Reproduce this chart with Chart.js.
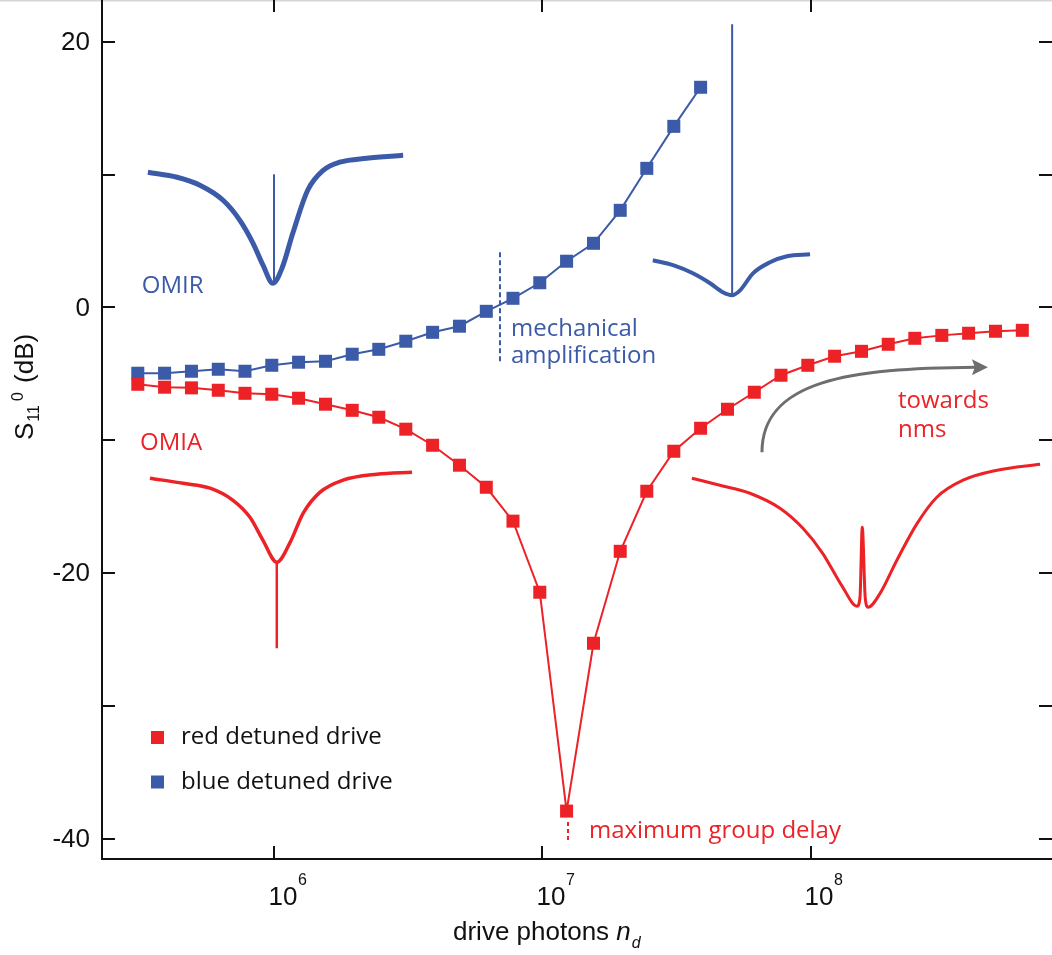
<!DOCTYPE html>
<html><head><meta charset="utf-8">
<script src="https://cdn.jsdelivr.net/npm/chart.js@4/dist/chart.umd.min.js"></script>
<style>html,body{margin:0;padding:0;background:#fff;overflow:hidden}canvas{display:block}</style>
</head><body>
<canvas id="c" width="1052" height="955"></canvas>
<script>
// ---- data ----
const drivePhotons = [3.09e5,3.89e5,4.90e5,6.17e5,7.76e5,9.77e5,1.23e6,1.55e6,1.95e6,2.45e6,3.09e6,3.89e6,4.90e6,6.17e6,7.76e6,9.77e6,1.23e7,1.55e7,1.95e7,2.45e7,3.09e7,3.89e7,4.90e7,6.17e7,7.76e7,9.77e7,1.23e8,1.55e8,1.95e8,2.45e8,3.09e8,3.89e8,4.90e8,6.17e8];
const redS11 = [-5.78,-6.00,-6.05,-6.23,-6.46,-6.53,-6.83,-7.28,-7.74,-8.26,-9.16,-10.37,-11.87,-13.53,-16.08,-21.43,-37.9,-25.27,-18.35,-13.83,-10.82,-9.09,-7.66,-6.38,-5.10,-4.35,-3.67,-3.30,-2.77,-2.32,-2.10,-1.94,-1.79,-1.72];
const blueS11 = [-4.95,-4.95,-4.80,-4.65,-4.80,-4.35,-4.12,-4.05,-3.52,-3.15,-2.54,-1.87,-1.41,-0.29,0.69,1.86,3.48,4.83,7.31,10.47,13.63,16.57];

// inset spectra, placed on the main axes
const blueInset1X = [3.37e5,4.33e5,5.27e5,6.43e5,7.43e5,8.32e5,9.06e5,9.87e5,1.07e6,1.17e6,1.33e6,1.52e6,1.75e6,2.21e6,3.02e6];
const blueInset1Y = [10.17,9.80,9.20,8.07,6.56,4.83,3.18,1.82,3.03,5.58,8.82,10.32,10.93,11.23,11.45];
const blueSpike1X = [9.96e5,9.96e5];
const blueSpike1Y = [1.9,10.02];
const blueInset2X = [2.58e7,3.07e7,3.64e7,4.22e7,4.71e7,5.09e7,5.46e7,6.10e7,7.06e7,8.17e7,9.96e7];
const blueInset2Y = [3.55,3.18,2.57,1.82,1.14,0.92,1.29,2.57,3.40,3.85,4.00];
const blueSpike2X = [5.10e7,5.10e7];
const blueSpike2Y = [0.95,21.31];
const redInset1X = [3.43e5,4.56e5,5.75e5,7.00e5,8.10e5,9.06e5,1.02e6,1.14e6,1.28e6,1.48e6,1.80e6,2.41e6,3.26e6];
const redInset1Y = [-12.85,-13.23,-13.60,-14.51,-15.79,-17.52,-19.17,-17.74,-15.48,-13.90,-13.00,-12.55,-12.40];
const redSpike1X = [1.02e6,1.02e6];
const redSpike1Y = [-19.17,-25.65];
const redInset2X = [3.61e7,4.59e7,5.94e7,7.69e7,9.37e7,1.11e8,1.32e8,1.49e8,1.53e8,1.56e8,1.60e8,1.64e8,1.82e8,2.10e8,2.50e8,2.96e8,3.71e8,4.97e8,7.19e8];
const redInset2Y = [-12.85,-13.38,-13.98,-15.11,-16.62,-18.50,-21.06,-22.48,-21.81,-16.54,-21.81,-22.56,-21.50,-19.02,-16.25,-14.28,-13.00,-12.25,-11.80];
const ampMarkX = [6.94e6,6.94e6];
const ampMarkY = [4.15,-4.12];
const delayMarkX = [1.245e7,1.245e7];
const delayMarkY = [-38.72,-40.30];

// axes
const yTickValues = [20,10,0,-10,-20,-30,-40];
const yTickLabels = ['20','','0','','-20','','-40'];
const xTickValues = [1e6,1e7,1e8];
const xTickExponents = ['6','7','8'];

const RED = '#ec2227', BLUE = '#3b5aa8', GRAY = '#6d6e71';

const zip = (xs, ys) => xs.map((x,i)=>({x:x, y:ys[i]}));

const annoTexts = [
  {text:'OMIR', x:3.20e5, y:1.07, color:BLUE},
  {text:'OMIA', x:3.15e5, y:-10.7, color:RED},
  {text:'mechanical', x:7.63e6, y:-2.17, color:BLUE},
  {text:'amplification', x:7.63e6, y:-4.19, color:BLUE},
  {text:'maximum group delay', x:1.49e7, y:-39.95, color:RED},
  {text:'towards', x:2.12e8, y:-7.59, color:RED},
  {text:'nms', x:2.12e8, y:-9.77, color:RED}
];
// arrow: start, two control points, end (data coordinates)
const arrowPts = [[6.59e7,-10.90],[6.59e7,-5.48],[1.40e8,-4.57],[4.59e8,-4.50]];

function lineDS(xs, ys, color, w, extra) {
  return Object.assign({data: zip(xs, ys), showLine:true, borderColor:color, borderWidth:w, pointRadius:0, fill:false, cubicInterpolationMode:'monotone'}, extra||{});
}

const axesPlugin = {
  id:'axesPlugin',
  afterDraw(chart) {
    const ctx = chart.ctx, xs = chart.scales.x, ys = chart.scales.y, a = chart.chartArea;
    ctx.save();
    // faint frame top
    ctx.strokeStyle = '#d6d6d6'; ctx.lineWidth = 1.5;
    ctx.beginPath(); ctx.moveTo(0, 0.75); ctx.lineTo(chart.width, 0.75); ctx.stroke();
    ctx.strokeStyle = '#111'; ctx.lineWidth = 2;
    ctx.beginPath();
    ctx.moveTo(a.left, a.top); ctx.lineTo(a.left, a.bottom + 1);
    ctx.moveTo(a.left - 1, a.bottom); ctx.lineTo(a.right, a.bottom);
    ctx.stroke();
    // y ticks (inward) + mirror on right
    ctx.beginPath();
    yTickValues.forEach(v => {
      const y = Math.round(ys.getPixelForValue(v));
      ctx.moveTo(a.left, y); ctx.lineTo(a.left + 13, y);
      ctx.moveTo(a.right - 13, y); ctx.lineTo(a.right, y);
    });
    xTickValues.forEach(v => {
      const x = Math.round(xs.getPixelForValue(v));
      ctx.moveTo(x, a.bottom); ctx.lineTo(x, a.bottom - 13);
      ctx.moveTo(x, a.top); ctx.lineTo(x, a.top + 12);
    });
    ctx.stroke();
    // y tick labels
    ctx.fillStyle = '#111';
    ctx.font = '26px "Liberation Sans", Arial, sans-serif';
    ctx.textAlign = 'right'; ctx.textBaseline = 'middle';
    yTickValues.forEach((v,i) => {
      if (yTickLabels[i]) ctx.fillText(yTickLabels[i], a.left - 12, ys.getPixelForValue(v) + 1);
    });
    // x tick labels 10^n
    ctx.textAlign = 'left'; ctx.textBaseline = 'alphabetic';
    xTickValues.forEach((v,i) => {
      const x = xs.getPixelForValue(v) - 6;
      ctx.font = '26px "Liberation Sans", Arial, sans-serif';
      ctx.fillText('10', x, a.bottom + 46);
      const w = ctx.measureText('10').width;
      ctx.font = '16px "Liberation Sans", Arial, sans-serif';
      ctx.fillText(xTickExponents[i], x + w + 0.5, a.bottom + 26);
    });
    // x title
    let tx = 453, ty = a.bottom + 81;
    ctx.font = '26px "Liberation Sans", Arial, sans-serif';
    ctx.fillText('drive photons ', tx, ty);
    tx += ctx.measureText('drive photons ').width;
    ctx.font = 'italic 26px "Liberation Sans", Arial, sans-serif';
    ctx.fillText('n', tx, ty);
    tx += ctx.measureText('n').width + 1;
    ctx.font = 'italic 16px "Liberation Sans", Arial, sans-serif';
    ctx.fillText('d', tx, ty + 8);
    // y title rotated
    ctx.save();
    ctx.translate(33, 440);
    ctx.rotate(-Math.PI/2);
    let px = 0;
    ctx.font = '26px "Liberation Sans", Arial, sans-serif';
    ctx.fillText('S', px, 0); px += ctx.measureText('S').width + 1;
    ctx.font = '16px "Liberation Sans", Arial, sans-serif';
    ctx.fillText('11', px, 6); px += ctx.measureText('11').width + 4;
    ctx.fillText('0', px, -10); px += ctx.measureText('0').width + 2;
    ctx.font = '26px "Liberation Sans", Arial, sans-serif';
    ctx.fillText(' (dB)', px, 0);
    ctx.restore();

    // annotations
    ctx.font = '24px "Open Sans", sans-serif';
    ctx.textAlign = 'left'; ctx.textBaseline = 'alphabetic';
    annoTexts.forEach(t => {
      ctx.fillStyle = t.color;
      ctx.fillText(t.text, xs.getPixelForValue(t.x), ys.getPixelForValue(t.y));
    });
    // arrow
    const P = arrowPts.map(p => [xs.getPixelForValue(p[0]), ys.getPixelForValue(p[1])]);
    const tip = P[3];
    ctx.strokeStyle = GRAY; ctx.fillStyle = GRAY; ctx.lineWidth = 3;
    ctx.beginPath();
    ctx.moveTo(P[0][0], P[0][1]);
    ctx.bezierCurveTo(P[1][0], P[1][1], P[2][0], P[2][1], tip[0] - 12, tip[1]);
    ctx.stroke();
    ctx.beginPath();
    ctx.moveTo(tip[0], tip[1]); ctx.lineTo(tip[0] - 16, tip[1] - 8); ctx.lineTo(tip[0] - 13, tip[1]); ctx.lineTo(tip[0] - 16, tip[1] + 8); ctx.closePath();
    ctx.fill();

    // legend
    const items = [chart.data.datasets[0], chart.data.datasets[1]];
    const rows = [a.top + 737.5, a.top + 782];
    ctx.font = '24px "Open Sans", sans-serif';
    ctx.textBaseline = 'middle';
    items.forEach((d,i) => {
      ctx.fillStyle = d.pointBackgroundColor;
      ctx.fillRect(151, rows[i] - 6.5, 13, 13);
      ctx.fillStyle = '#111';
      ctx.fillText(d.label, 181, rows[i]);
    });
    ctx.restore();
  }
};

new Chart(document.getElementById('c'), {
  type: 'scatter',
  data: {
    datasets: [
      {label:'red detuned drive', data: zip(drivePhotons, redS11), showLine:true, borderColor:RED, borderWidth:2, pointStyle:'rect', pointRadius:9.2, pointBackgroundColor:RED, pointBorderWidth:0, tension:0},
      {label:'blue detuned drive', data: zip(drivePhotons.slice(0, blueS11.length), blueS11), showLine:true, borderColor:BLUE, borderWidth:2, pointStyle:'rect', pointRadius:9.2, pointBackgroundColor:BLUE, pointBorderWidth:0, tension:0},
      lineDS(blueInset1X, blueInset1Y, BLUE, 5),
      lineDS(blueSpike1X, blueSpike1Y, BLUE, 2, {cubicInterpolationMode:'default', tension:0}),
      lineDS(blueInset2X, blueInset2Y, BLUE, 4),
      lineDS(blueSpike2X, blueSpike2Y, BLUE, 2, {cubicInterpolationMode:'default', tension:0}),
      lineDS(redInset1X, redInset1Y, RED, 3.5),
      lineDS(redSpike1X, redSpike1Y, RED, 2.5, {cubicInterpolationMode:'default', tension:0}),
      lineDS(redInset2X, redInset2Y, RED, 3),
      lineDS(ampMarkX, ampMarkY, BLUE, 2, {cubicInterpolationMode:'default', tension:0, borderDash:[5,3]}),
      lineDS(delayMarkX, delayMarkY, RED, 2, {cubicInterpolationMode:'default', tension:0, borderDash:[4,3]})
    ]
  },
  options: {
    responsive:false, animation:false, devicePixelRatio:1,
    layout:{padding:0, autoPadding:false},
    plugins:{legend:{display:false}, tooltip:{enabled:false}},
    scales:{
      x:{type:'logarithmic', min:2.272e5, max:7.963e8, grid:{display:false}, border:{display:false}, ticks:{display:false}, afterFit(s){s.height = 96; s.paddingLeft = 0; s.paddingRight = 0;}},
      y:{type:'linear', min:-41.505, max:23.138, grid:{display:false}, border:{display:false}, ticks:{display:false}, afterFit(s){s.width = 102; s.paddingTop = 0; s.paddingBottom = 0;}}
    }
  },
  plugins:[axesPlugin]
});
</script>
</body></html>
